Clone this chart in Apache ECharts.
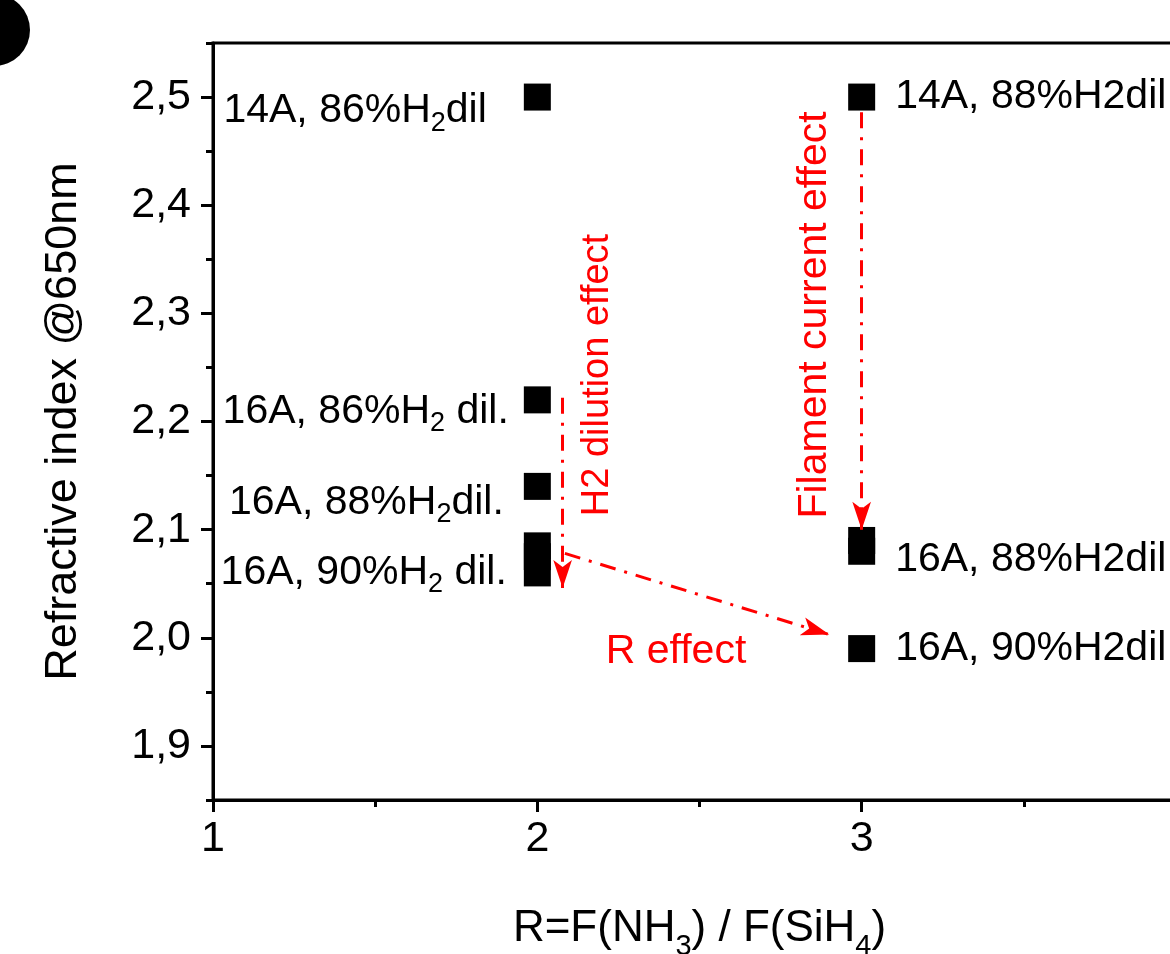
<!DOCTYPE html>
<html>
<head>
<meta charset="utf-8">
<script src="https://cdn.jsdelivr.net/npm/echarts@6/dist/echarts.min.js"></script>
<style>
  html, body { margin: 0; padding: 0; background: #fff; }
  #main { width: 1170px; height: 954px; }
</style>
</head>
<body>
<div id="main"></div>
<script>
// data
var ratioR = [2, 2, 2, 2, 2, 2, 3, 3, 3, 3];
var refIndex = [2.50, 2.22, 2.14, 2.085, 2.075, 2.06, 2.50, 2.09, 2.08, 1.99];
var pointLabels = [
  '{n|14A, 86%H}{s|2}{n|dil}',
  '{n|16A, 86%H}{s|2}{n| dil.}',
  '{n|16A, 88%H}{s|2}{n|dil.}',
  '',
  '',
  '{n|16A, 90%H}{s|2}{n| dil.}',
  '{n|14A, 88%H2dil}',
  '',
  '{n|16A, 88%H2dil}',
  '{n|16A, 90%H2dil}'
];
var labelSide = ['left', 'left', 'left', 'left', 'left', 'left', 'right', 'right', 'right', 'right'];
var labelShift = [[-23, 14], [-1, 12], [-6, 16], [0, 0], [0, 0], [-3, 0], [6, 0], [0, 0], [6, 8], [6, 0]];

var yTicks = [1.9, 2.0, 2.1, 2.2, 2.3, 2.4, 2.5];
var yMinorTicks = [1.85, 1.95, 2.05, 2.15, 2.25, 2.35, 2.45, 2.55];

// arrows: [x0, y0, x1, y1]
var arrowH2 = [2.078, 2.222, 2.078, 2.046];
var arrowR = [2.085, 2.078, 2.90, 2.003];
var arrowFil = [3.0, 2.486, 3.0, 2.10];

var chart = echarts.init(document.getElementById('main'));

var font = 'Liberation Sans, Arial, sans-serif';
var red = '#ff0000';

var pts = ratioR.map(function (x, i) {
  var lab = pointLabels[i];
  return {
    value: [x, refIndex[i]],
    label: {
      show: lab !== '',
      position: labelSide[i],
      offset: labelShift[i],
      distance: 14,
      formatter: lab
    }
  };
});

function arrowLine(a) {
  return [{ coord: [a[0], a[1]] }, { coord: [a[2], a[3]] }];
}

var option = {
  backgroundColor: '#fff',
  animation: false,
  grid: {
    left: 213, top: 43, width: 973, height: 757,
    outerBoundsMode: 'none',
    containLabel: false,
    show: true, borderColor: '#000', borderWidth: 3, backgroundColor: 'transparent'
  },
  xAxis: {
    type: 'value', min: 1, max: 4, interval: 1,
    name: '{n|R=F(NH}{s|3}{n|) / F(SiH}{s|4}{n|)}',
    nameLocation: 'middle', nameGap: 96,
    nameTextStyle: {
      padding: [0, 0, 0, 0],
      rich: {
        n: { fontSize: 44, fontFamily: font, color: '#000', lineHeight: 52 },
        s: { fontSize: 29, fontFamily: font, color: '#000', padding: [36, 0, 0, 0] }
      }
    },
    axisLine: { lineStyle: { color: '#000', width: 3 } },
    axisTick: { inside: false, length: 12, lineStyle: { width: 3 } },
    minorTick: { show: true, splitNumber: 2, length: 7, lineStyle: { color: '#000', width: 3 } },
    splitLine: { show: false },
    axisLabel: { fontSize: 43, fontFamily: font, color: '#000', margin: 18 }
  },
  yAxis: [{
    type: 'value', min: 1.85, max: 2.55,
    name: 'Refractive index @650nm',
    nameLocation: 'middle', nameGap: 127,
    nameTextStyle: { fontSize: 45, fontFamily: font, color: '#000' },
    axisLine: { lineStyle: { color: '#000', width: 3 } },
    axisTick: { inside: false, length: 12, lineStyle: { width: 3 }, customValues: yTicks },
    splitLine: { show: false },
    axisLabel: {
      fontSize: 43, fontFamily: font, color: '#000', margin: 22,
      customValues: yTicks,
      formatter: function (v) { return v.toFixed(1).replace('.', ','); }
    }
  }, {
    type: 'value', min: 1.85, max: 2.55, position: 'left',
    axisLine: { show: false },
    axisTick: { inside: false, length: 7, lineStyle: { color: '#000', width: 3 }, customValues: yMinorTicks },
    axisLabel: { show: false, customValues: yMinorTicks },
    splitLine: { show: false }
  }],
  series: [{
    type: 'scatter',
    symbol: 'rect',
    symbolSize: 27,
    itemStyle: { color: '#000', opacity: 1 },
    data: pts,
    label: {
      color: '#000',
      rich: {
        n: { fontSize: 41, fontFamily: font, color: '#000', lineHeight: 48 },
        s: { fontSize: 27, fontFamily: font, color: '#000', padding: [24, 0, 0, 0] }
      }
    },
    markLine: {
      silent: true,
      symbol: ['none', 'arrow'],
      symbolSize: [14, 28],
      label: { show: false },
      lineStyle: { color: red, width: 3, type: [16, 9, 3, 9], opacity: 1 },
      data: [arrowLine(arrowH2), arrowLine(arrowR), arrowLine(arrowFil)]
    }
  }],
  graphic: [
    { type: 'circle', shape: { cx: -6, cy: 30, r: 36 }, style: { fill: '#000' } },
    {
      type: 'text', x: 598, y: 375, rotation: Math.PI / 2,
      style: { text: 'H2 dilution effect', fill: red, font: '38px ' + font, align: 'center', verticalAlign: 'middle' }
    },
    {
      type: 'text', x: 815, y: 315, rotation: Math.PI / 2,
      style: { text: 'Filament current effect', fill: red, font: '41px ' + font, align: 'center', verticalAlign: 'middle' }
    },
    {
      type: 'text', x: 676, y: 652,
      style: { text: 'R effect', fill: red, font: '41px ' + font, align: 'center', verticalAlign: 'middle' }
    }
  ]
};

chart.setOption(option);
</script>
</body>
</html>
